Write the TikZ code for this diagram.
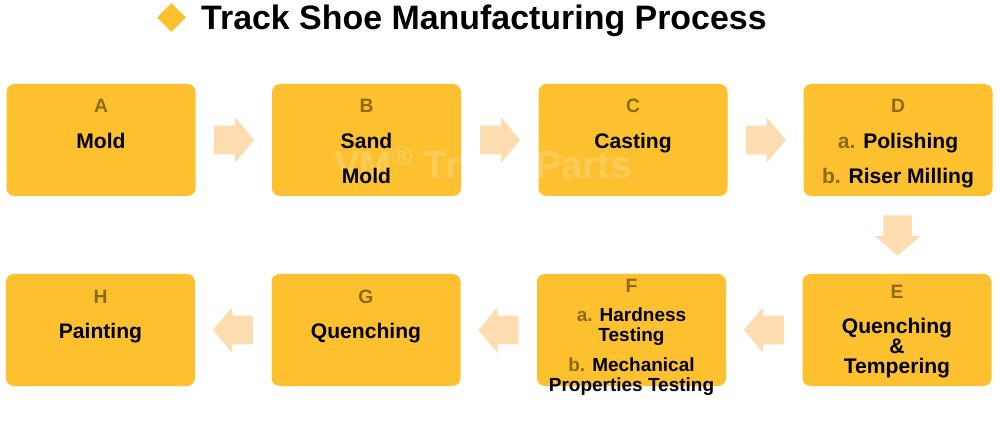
\documentclass[tikz,border=0pt]{standalone}
\usepackage{fontspec}
\setmainfont{Liberation Sans}
\usepackage{xcolor}
\usetikzlibrary{shapes,arrows,positioning,calc}

\definecolor{boxyellow}{HTML}{FDC02F}
\definecolor{letterbrown}{HTML}{8C6A0F}
\definecolor{arrowpeach}{HTML}{FDDDB0}

\begin{document}
\begin{tikzpicture}[
    stepbox/.style={fill=boxyellow, rounded corners=0.16cm, minimum width=3.78cm, minimum height=2.24cm, inner sep=0pt},
    letter/.style={anchor=base, text=letterbrown, font=\fontsize{11}{13}\selectfont\bfseries},
    body/.style={anchor=base, font=\fontsize{12}{14}\selectfont\bfseries},
    small/.style={anchor=base, font=\fontsize{10.8}{13}\selectfont\bfseries},
    flowarrow/.style={single arrow, fill=arrowpeach, minimum height=0.8cm,
        single arrow head extend=0.17cm, single arrow tip angle=100, inner xsep=0.1cm, inner ysep=0.28cm}
]
    \useasboundingbox (0,0) rectangle (20,-8.52);

    % Title
    \node[diamond, fill=boxyellow, minimum width=0.58cm, minimum height=0.58cm, inner sep=0pt] (bullet) at (3.43,-0.35) {};
    \node[anchor=base west, font=\fontsize{19.3}{22}\selectfont\bfseries] (title) at (3.9,-0.60) {Track Shoe Manufacturing Process};

    % Boxes
    \foreach \name/\x/\y in {A/2.02/-2.80, B/7.33/-2.80, C/12.66/-2.80, D/17.96/-2.80,
                             E/17.94/-6.60, F/12.63/-6.60, G/7.32/-6.60, H/2.01/-6.60} {
        \node[stepbox] (\name) at (\x,\y) {};
    }

    % Watermark
    \node[anchor=base west, text=white, opacity=0.2, font=\fontsize{22}{24}\selectfont\bfseries] (mark) at (6.56,-3.58) {VM\textsuperscript{\textregistered} Track Parts};

    % Letters
    \foreach \name/\dy in {A/0.54, B/0.54, C/0.54, D/0.54, E/0.62, F/0.76, G/0.54, H/0.54} {
        \node[letter] (\name-l) at ($(\name.center)+(0,\dy)$) {\name};
    }

    % Labels
    \node[body] (A-t) at ($(A.center)+(0,-0.18)$) {Mold};
    \node[body] (B-t) at ($(B.center)+(0,-0.18)$) {Sand};
    \node[body] (B-u) at ($(B.center)+(0,-0.88)$) {Mold};
    \node[body] (C-t) at ($(C.center)+(0,-0.18)$) {Casting};
    \node[body] (D-t) at ($(D.center)+(0,-0.18)$) {\textcolor{letterbrown}{a.} Polishing};
    \node[body] (D-u) at ($(D.center)+(0,-0.88)$) {\textcolor{letterbrown}{b.} Riser Milling};
    \node[body] (E-t) at ($(E.center)+(0,-0.06)$) {Quenching};
    \node[body] (E-u) at ($(E.center)+(0,-0.46)$) {\&};
    \node[body] (E-v) at ($(E.center)+(0,-0.86)$) {Tempering};
    \node[small] (F-t) at ($(F.center)+(0,0.18)$) {\textcolor{letterbrown}{a.} Hardness};
    \node[small] (F-u) at ($(F.center)+(0,-0.24)$) {Testing};
    \node[small] (F-v) at ($(F.center)+(0,-0.82)$) {\textcolor{letterbrown}{b.} Mechanical};
    \node[small] (F-w) at ($(F.center)+(0,-1.22)$) {Properties Testing};
    \node[body] (G-t) at ($(G.center)+(0,-0.18)$) {Quenching};
    \node[body] (H-t) at ($(H.center)+(0,-0.18)$) {Painting};

    % Arrows
    \foreach \a/\b/\rot in {A/B/0, B/C/0, C/D/0, D/E/270, E/F/180, F/G/180, G/H/180} {
        \coordinate (\a\b-m) at ($(\a)!0.5!(\b)$);
        \node[flowarrow, rotate=\rot, anchor=tail] (\a\b) at ($(\a\b-m)!0.4cm!(\a)$) {};
    }
\end{tikzpicture}
\end{document}
